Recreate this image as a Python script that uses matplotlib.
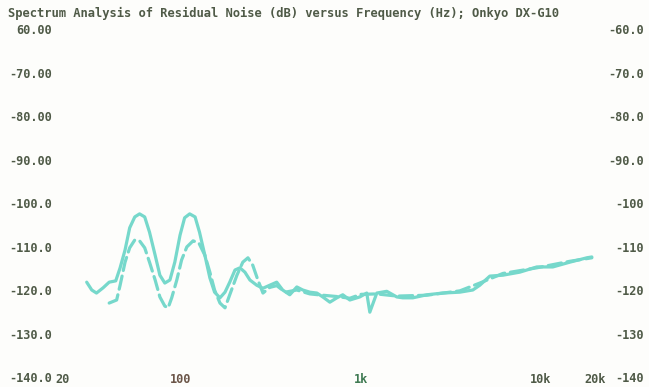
import matplotlib
matplotlib.use("Agg")
import matplotlib.pyplot as plt

# Residual noise spectrum, two traces (solid and dashed)
freq_solid = [30, 32, 34, 37, 40, 43.5, 46, 49, 52, 55.5, 59, 63, 67, 72, 76.5,
              81.5, 87, 92.6, 99, 105, 112, 120, 127, 136, 145, 154, 165, 176,
              187, 200, 213, 227, 242, 264, 286, 312, 341, 368, 403, 441, 476,
              521, 570, 615, 673, 736, 794, 869, 986, 1079, 1122, 1227, 1394,
              1585, 1710, 1945, 2326, 2855, 3548, 4190, 4584, 5210, 6150, 7640,
              9500, 11660, 14500, 18000, 19200]
db_solid = [-118.2, -120.0, -120.7, -119.5, -118.2, -117.9, -114.9, -110.8,
            -105.7, -103.2, -102.5, -103.2, -106.7, -112.0, -116.6, -118.4,
            -117.7, -113.6, -107.4, -103.4, -102.5, -103.2, -106.7, -112.0,
            -117.2, -120.5, -121.8, -120.5, -118.2, -115.4, -114.9, -115.9,
            -117.7, -118.9, -119.6, -118.9, -118.2, -120.0, -121.1, -119.3,
            -120.0, -120.5, -120.7, -121.6, -122.8, -121.8, -121.1, -122.3,
            -121.6, -120.7, -125.1, -120.7, -120.3, -121.6, -121.8, -121.8,
            -121.1, -120.7, -120.5, -120.0, -118.9, -116.8, -116.6, -115.9,
            -114.7, -114.7, -113.6, -112.6, -112.4]

freq_dash = [40, 44, 46, 49, 52, 55.5, 59, 63, 67, 72, 76.5, 81.5, 85, 89, 95,
             101, 108, 117, 126, 136, 145, 154, 165, 176, 187, 205, 221, 236,
             251, 268, 286, 312, 341, 380, 441, 521, 615, 736, 869, 1000, 1227,
             1585, 2326, 3548, 4584, 6150, 9500, 14500, 19200]
db_dash = [-123.0, -122.3, -118.9, -113.6, -110.3, -108.5, -108.7, -110.3,
           -113.6, -117.7, -121.6, -123.7, -124.1, -121.8, -117.7, -113.1,
           -110.1, -108.7, -109.2, -112.0, -115.9, -120.0, -123.0, -124.1,
           -121.1, -116.6, -113.6, -112.6, -114.3, -117.7, -120.7, -119.4,
           -119.0, -120.5, -120.0, -120.9, -121.2, -121.5, -121.9, -121.0,
           -120.9, -121.4, -121.2, -120.2, -118.4, -116.2, -114.9, -113.4,
           -112.6]

y_ticks = [-60, -70, -80, -90, -100, -110, -120, -130, -140]
y_labels_left = ["60.00", "-70.00", "-80.00", "-90.00", "-100.0", "-110.0",
                 "-120.0", "-130.0", "-140.0"]
y_labels_right = ["-60.0", "-70.0", "-80.0", "-90.0", "-100", "-110", "-120",
                  "-130", "-140"]
x_ticks = [20, 100, 1000, 10000, 20000]
x_labels = ["20", "100", "1k", "10k", "20k"]

title = "Spectrum Analysis of Residual Noise (dB) versus Frequency (Hz); Onkyo DX-G10"

W, H = 649, 387
fig = plt.figure(figsize=(W / 100, H / 100), dpi=100, facecolor="#fdfdfb")
ax = fig.add_axes([55 / W, 1 - 377 / H, 540 / W, 348 / H])
ax.set_facecolor("#fdfdfb")

txt = "#4f5a47"
font = dict(family="DejaVu Sans Mono", weight="bold", size=8.6)

line_col = "#76d8cb"
ax.plot(freq_solid, db_solid, color=line_col, lw=2.3, solid_capstyle="round",
        solid_joinstyle="round")
ax.plot(freq_dash, db_dash, color=line_col, lw=2.3, linestyle=(0, (4.2, 1.8)),
        dash_capstyle="round")

ax.set_xscale("log")
ax.set_xlim(20, 20000)
ax.set_ylim(-140, -60)
for s in ax.spines.values():
    s.set_visible(False)

ax.set_yticks(y_ticks, y_labels_left, color=txt, **font)
ax.tick_params(axis="y", length=0, pad=2)

sec = ax.secondary_yaxis("right")
sec.set_yticks(y_ticks, y_labels_right, color=txt, **font)
sec.tick_params(axis="y", length=0, pad=35)
for lab in sec.get_yticklabels():
    lab.set_horizontalalignment("right")
for s in sec.spines.values():
    s.set_visible(False)

ax.set_xticks(x_ticks, x_labels, color=txt, **font)
ax.xaxis.set_minor_locator(matplotlib.ticker.NullLocator())
ax.tick_params(axis="x", length=0, pad=-3)
xl = ax.get_xticklabels()
xl[0].set_horizontalalignment("left")
xl[1].set_color("#6b5548")
xl[2].set_color("#3f7a52")

fig.text(8 / W, 1 - 13 / H, title, ha="left", va="center", color=txt,
         family="DejaVu Sans Mono", weight="bold", size=8.75)

fig.savefig("out.png", dpi=100, facecolor=fig.get_facecolor())
